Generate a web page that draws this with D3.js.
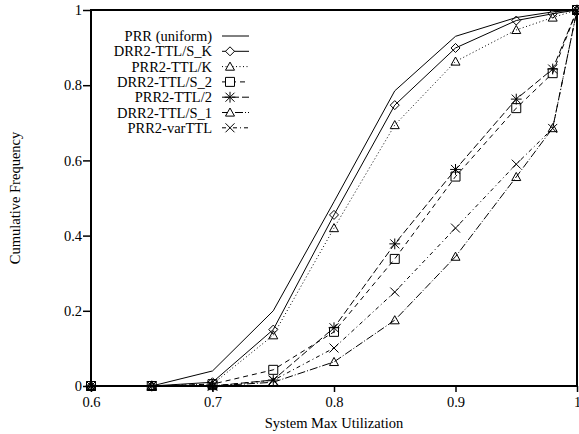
<!DOCTYPE html>
<html>
<head>
<meta charset="utf-8">
<script src="https://cdn.jsdelivr.net/npm/d3@7"></script>
<style>
  body { margin: 0; background: #fff; }
  svg text { font-family: "Liberation Serif", "Times New Roman", serif; fill: #000; }
</style>
</head>
<body>
<svg id="chart"></svg>
<script>
// Data
var utilization = [0.6, 0.65, 0.7, 0.75, 0.8, 0.85, 0.9, 0.95, 0.98, 1.0];

var prrUniform = [0, 0, 0.04, 0.2, 0.49, 0.785, 0.93, 0.98, 0.995, 1];
var drrTtlSK   = [0, 0, 0.01, 0.15, 0.455, 0.747, 0.899, 0.972, 0.99, 1];
var prrTtlK    = [0, 0, 0.005, 0.135, 0.42, 0.694, 0.863, 0.947, 0.98, 1];
var drrTtlS2   = [0, 0, 0.005, 0.043, 0.144, 0.338, 0.557, 0.739, 0.832, 1];
var prrTtl2    = [0, 0, 0, 0.016, 0.155, 0.378, 0.576, 0.763, 0.843, 1];
var drrTtlS1   = [0, 0, 0, 0.01, 0.064, 0.175, 0.344, 0.556, 0.686, 1];
var prrVarTtl  = [0, 0, 0, 0.015, 0.101, 0.25, 0.42, 0.59, 0.685, 1];

var seriesNames = ["PRR (uniform)", "DRR2-TTL/S_K", "PRR2-TTL/K", "DRR2-TTL/S_2",
                   "PRR2-TTL/2", "DRR2-TTL/S_1", "PRR2-varTTL"];
var xTicks = [0.6, 0.7, 0.8, 0.9, 1];
var yTicks = [0, 0.2, 0.4, 0.6, 0.8, 1];

var series = [
    {name: seriesNames[0], values: prrUniform, dash: null,        marker: "none"},
    {name: seriesNames[1], values: drrTtlSK,   dash: null,        marker: "diamond"},
    {name: seriesNames[2], values: prrTtlK,    dash: "1,2.5",     marker: "triangle"},
    {name: seriesNames[3], values: drrTtlS2,   dash: "5,4",       marker: "square"},
    {name: seriesNames[4], values: prrTtl2,    dash: "7,3",       marker: "star"},
    {name: seriesNames[5], values: drrTtlS1,   dash: "8,2,1,2",   marker: "triangle"},
    {name: seriesNames[6], values: prrVarTtl,  dash: "4,3,1,3",   marker: "cross"}
];

var width = 579,
    height = 434,
    margin = {left: 91, right: 2, top: 10, bottom: 48};

var svg = d3.select("#chart")
    .attr("width", width)
    .attr("height", height);

var x = d3.scaleLinear()
    .domain([0.6, 1])
    .range([margin.left, width - margin.right]);

var y = d3.scaleLinear()
    .domain([0, 1])
    .range([height - margin.bottom, margin.top]);

// Axes
var xAxis = svg.append("g")
    .attr("transform", "translate(0," + y(0) + ")")
    .call(d3.axisBottom(x).tickValues(xTicks).tickFormat(d3.format("")).tickSize(6).tickPadding(5));

var yAxis = svg.append("g")
    .attr("transform", "translate(" + x(0.6) + ",0)")
    .call(d3.axisLeft(y).tickValues(yTicks).tickFormat(d3.format("")).tickSize(8).tickPadding(1));

[xAxis, yAxis].forEach(function (ax) {
    ax.select(".domain").remove();
    ax.selectAll(".tick line").attr("stroke", "#000").attr("stroke-width", 1.5);
    ax.selectAll("text").style("font-family", "Liberation Serif").style("font-size", "14.5px");
});

// Line paths
var line = d3.line()
    .x(function (d) { return x(d[0]); })
    .y(function (d) { return y(d[1]); });

function markerPath(type, s) {
    if (type == "diamond") {
        return "M0," + (-s) + "L" + s + ",0L0," + s + "L" + (-s) + ",0Z";
    }
    if (type == "triangle") {
        return "M0," + (-s) + "L" + s + "," + (s * 0.8) + "L" + (-s) + "," + (s * 0.8) + "Z";
    }
    if (type == "square") {
        return "M" + (-s) + "," + (-s) + "H" + s + "V" + s + "H" + (-s) + "Z";
    }
    if (type == "cross") {
        return "M" + (-s) + "," + (-s) + "L" + s + "," + s + "M" + s + "," + (-s) + "L" + (-s) + "," + s;
    }
    if (type == "star") {
        return "M" + (-s) + "," + (-s) + "L" + s + "," + s + "M" + s + "," + (-s) + "L" + (-s) + "," + s +
               "M0," + (-s * 1.2) + "V" + (s * 1.2) + "M" + (-s * 1.2) + ",0H" + (s * 1.2);
    }
    return "";
}

var plot = svg.append("g");

series.forEach(function (s) {
    var pts = utilization.map(function (u, i) { return [u, s.values[i]]; });

    plot.append("path")
        .datum(pts)
        .attr("d", line)
        .attr("fill", "none")
        .attr("stroke", "#000")
        .attr("stroke-width", 1)
        .attr("stroke-dasharray", s.dash);

    if (s.marker != "none") {
        plot.selectAll(null)
            .data(pts)
            .enter().append("path")
            .attr("transform", function (d) { return "translate(" + x(d[0]) + "," + y(d[1]) + ")"; })
            .attr("d", markerPath(s.marker, 4.5))
            .attr("fill", "none")
            .attr("stroke", "#000")
            .attr("stroke-width", 1);
    }
});

// Frame
svg.append("rect")
    .attr("x", x(0.6))
    .attr("y", y(1))
    .attr("width", x(1) - x(0.6))
    .attr("height", y(0) - y(1))
    .attr("fill", "none")
    .attr("stroke", "#000")
    .attr("stroke-width", 2);

// Legend
var legend = svg.append("g");
series.forEach(function (s, i) {
    var ly = 36 + i * 15.3;
    legend.append("text")
        .attr("x", 212)
        .attr("y", ly)
        .attr("dy", "0.35em")
        .style("text-anchor", "end")
        .style("font-size", "14.5px")
        .text(s.name);
    legend.append("line")
        .attr("x1", 222).attr("x2", 249)
        .attr("y1", ly).attr("y2", ly)
        .attr("stroke", "#000")
        .attr("stroke-width", 1)
        .attr("stroke-dasharray", s.dash);
    if (s.marker != "none") {
        legend.append("path")
            .attr("transform", "translate(" + 230 + "," + ly + ")")
            .attr("d", markerPath(s.marker, 4.5))
            .attr("fill", "#fff")
            .attr("stroke", "#000")
            .attr("stroke-width", 1);
    }
});

// Axis titles
svg.append("text")
    .attr("x", x(0.8))
    .attr("y", 428)
    .style("text-anchor", "middle")
    .style("font-size", "14.5px")
    .text("System Max Utilization");

svg.append("text")
    .attr("transform", "translate(20," + y(0.5) + ") rotate(-90)")
    .style("text-anchor", "middle")
    .style("font-size", "14.5px")
    .text("Cumulative Frequency");
</script>
</body>
</html>
